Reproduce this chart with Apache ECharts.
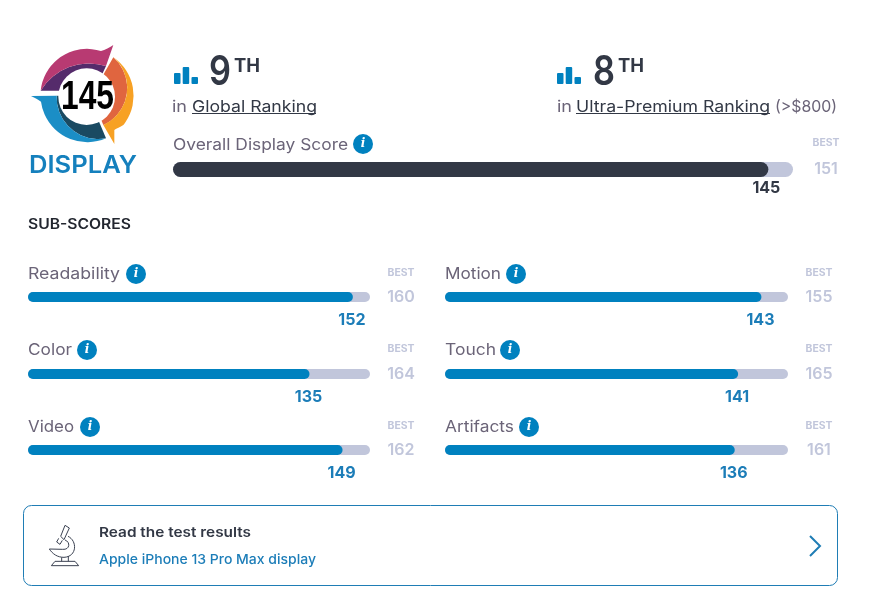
<!DOCTYPE html>
<html><head><meta charset="utf-8">
<style>html,body{margin:0;padding:0;background:#fff}#c{width:879px;height:615px}</style>
<script src="https://cdn.jsdelivr.net/npm/echarts@6/dist/echarts.min.js"></script>
</head><body><div id="c"></div>
<script>
const categories = ['Readability','Color','Video','Motion','Touch','Artifacts'];
const scores = [152,135,149,143,141,136];
const bests = [160,164,162,155,165,161];
const overallScore = 145;
const overallBest = 151;
const FONT = 'Inter';
const DARK='#323845', BLUE='#0081BF', TRACK='#C1C6DB', GREY='#6B6478', TEXTBLUE='#1C7DB8';

const slots = [[28,342,292,136,92],[28,342,369,87,44],[28,342,445,90,46],[445,343,292,516,56],[445,343,369,510,51],[445,343,445,529,69]];
const grids=[{left:173,width:620,top:162,height:15}], xAxes=[], yAxes=[], series=[];
function addBar(i,name,val,best,fill,barW,valSize,valColor,valOff,valX,bestOff){
  xAxes.push({gridIndex:i,type:'value',min:0,max:best,show:false});
  yAxes.push({gridIndex:i,type:'category',data:[name],show:false});
  series.push({type:'bar',xAxisIndex:i,yAxisIndex:i,data:[best],barWidth:barW,barGap:'-100%',silent:true,
    itemStyle:{color:TRACK,borderRadius:barW/2},
    label:{show:true,position:['100%',0],offset:[bestOff,barW/2],align:'center',verticalAlign:'middle',
      color:TRACK,fontFamily:FONT,fontWeight:600,fontSize:16,formatter:String(best)}});
  series.push({type:'bar',xAxisIndex:i,yAxisIndex:i,data:[val],barWidth:barW,barGap:'-100%',silent:true,
    itemStyle:{color:fill,borderRadius:barW/2},
    label:{show:true,position:['100%',valOff],offset:[valX,0],align:'center',verticalAlign:'middle',
      color:valColor,fontFamily:FONT,fontWeight:700,fontSize:valSize,formatter:String(val)}});
}
addBar(0,'Overall Display Score',overallScore,overallBest,DARK,15,16,DARK,26,-2,33);
categories.forEach((c,i)=>{
  const s=slots[i];
  grids.push({left:s[0],width:s[1],top:s[2],height:10});
  addBar(i+1,c,scores[i],bests[i],BLUE,10,16,TEXTBLUE,28.5,-1,31);
});

const paths={
 lgMagenta:'M47,152 A140,140 0 0 1 228,33 C240,30 255,22 265,15 L243,78 A170,170 0 0 0 47,152 Z',
 lgPurple:'M47,152 A170,170 0 0 1 243,78 L200,170 L110,152 Z',
 lgOrange:'M265,52 A140,140 0 0 1 295,255 C285,262 275,265 268,270 L268,312 L235,255 A122,122 0 0 0 265,52 Z',
 lgRed:'M265,52 A122,122 0 0 1 235,255 L200,170 L240,95 Z',
 lgBlue:'M18,168 L95,167 A125,125 0 0 0 243,295 A140,140 0 0 1 48,185 C38,178 28,173 18,168 Z',
 lgTeal:'M95,167 A125,125 0 0 0 243,295 L225,252 L190,170 Z',
 scope:'M62,55 L75,22 L88,30 L72,65 Z M56,61 L50,72 L60,79 L67,67 M84,55 C112,68 112,116 72,118 C52,118 38,108 28,93 L68,94 C90,96 92,72 75,66 M65,118 L65,130 M85,114 L85,130 M45,130 L105,130 L116,143 L34,143 Z'
};
Object.keys(paths).forEach(k=>echarts.graphic.registerShape(k,echarts.graphic.extendPath(paths[k],{})));
const lg=(t,c)=>({type:t,style:{fill:c}});

const mctx=document.createElement('canvas').getContext('2d');
function txt(x,y,text,size,color,weight,align,target,family){
  const fam=family||FONT, w=weight||400;
  let sx=1;
  if(target){mctx.font=w+' '+size+'px "'+fam+'"';sx=target/mctx.measureText(text).width;}
  return {type:'text',x,y,scaleX:sx,silent:true,style:{text,fontFamily:fam,fontSize:size,fontWeight:w,fill:color,align:align||'left',verticalAlign:'middle'}};
}
function info(x,y){
  return {type:'group',silent:true,children:[
    {type:'circle',shape:{cx:x,cy:y,r:10},style:{fill:BLUE}},
    {type:'text',x,y,style:{text:'i',fontFamily:'DejaVu Serif',fontStyle:'italic',fontWeight:700,fontSize:12,fill:'#fff',align:'center',verticalAlign:'middle'}}
  ]};
}
function rankIcon(x){
  return {type:'group',x,y:67,silent:true,children:[
    {type:'rect',shape:{x:0,y:6,width:6.5,height:11,r:1},style:{fill:BLUE}},
    {type:'rect',shape:{x:8.7,y:0,width:6.5,height:17,r:1},style:{fill:BLUE}},
    {type:'rect',shape:{x:17.5,y:10,width:6.5,height:7,r:1},style:{fill:BLUE}}
  ]};
}
const g=[
 {type:'group',x:25,y:40,scaleX:1/3,scaleY:1/3,silent:true,children:[
   lg('lgPurple','#552B6B'),lg('lgMagenta','#B83A72'),lg('lgRed','#E0653F'),lg('lgOrange','#F7A124'),lg('lgTeal','#1A4A62'),lg('lgBlue','#1B8EC6'),
   {type:'circle',shape:{cx:185,cy:170,r:85},style:{fill:'#fff'}}
 ]},
 txt(87.5,97.5,'145',41,'#000',700,'center',53,'Liberation Sans'),
 txt(83,166,'DISPLAY',24,'#1580BD',600,'center',108),
 rankIcon(174), txt(209,73,'9',41,DARK,600,'left',22), txt(234,66,'TH',19,DARK,700,'left',26),
 txt(172,107,'in',16,GREY,400,'left',15), txt(192,107,'Global Ranking',16,DARK,400,'left',125),
 {type:'line',silent:true,shape:{x1:192,y1:113.5,x2:316,y2:113.5},style:{stroke:DARK,lineWidth:1}},
 rankIcon(557), txt(593,73,'8',41,DARK,600,'left',22), txt(618,66,'TH',19,DARK,700,'left',26),
 txt(557,107,'in',16,GREY,400,'left',15), txt(576,107,'Ultra-Premium Ranking',16,DARK,400,'left',194),
 {type:'line',silent:true,shape:{x1:576,y1:113.5,x2:770,y2:113.5},style:{stroke:DARK,lineWidth:1}},
 txt(775,107,'(>$800)',16,GREY,400,'left',62),
 txt(173,145,'Overall Display Score',16,GREY,400,'left',175), info(363,144),
 txt(826,143,'BEST',10,TRACK,700,'center',27),
 txt(28,224.5,'SUB-SCORES',14,'#22262F',600,'left',103),
 {type:'rect',silent:true,shape:{x:23.5,y:505.5,width:814,height:80,r:8},style:{fill:'#fff',stroke:'#1F7DB5',lineWidth:1}},
 {type:'group',x:40,y:518,scaleX:1/3,scaleY:1/3,silent:true,children:[
   {type:'scope',style:{fill:null,stroke:'#3B4252',lineWidth:3}}
 ]},
 txt(99,533,'Read the test results',13.5,DARK,600,'left',152),
 txt(99,559.5,'Apple iPhone 13 Pro Max display',13.5,TEXTBLUE,500,'left',217),
 {type:'polyline',silent:true,shape:{points:[[810,536],[820,546],[810,556]]},style:{fill:null,stroke:'#1F7DB5',lineWidth:2}}
];
const lblY=[274,350,427];
categories.forEach((c,i)=>{
  const s=slots[i], y=lblY[i%3];
  g.push(txt(s[0],y,c,16,GREY,400,'left',s[4]));
  g.push(info(s[3],y));
  g.push(txt(s[0]+s[1]+31,y-1,'BEST',10,TRACK,700,'center',27));
});
echarts.init(document.getElementById('c'),null,{renderer:'canvas'}).setOption({
  animation:false,backgroundColor:'#fff',grid:grids,xAxis:xAxes,yAxis:yAxes,series,graphic:{elements:g}
});
</script></body></html>
